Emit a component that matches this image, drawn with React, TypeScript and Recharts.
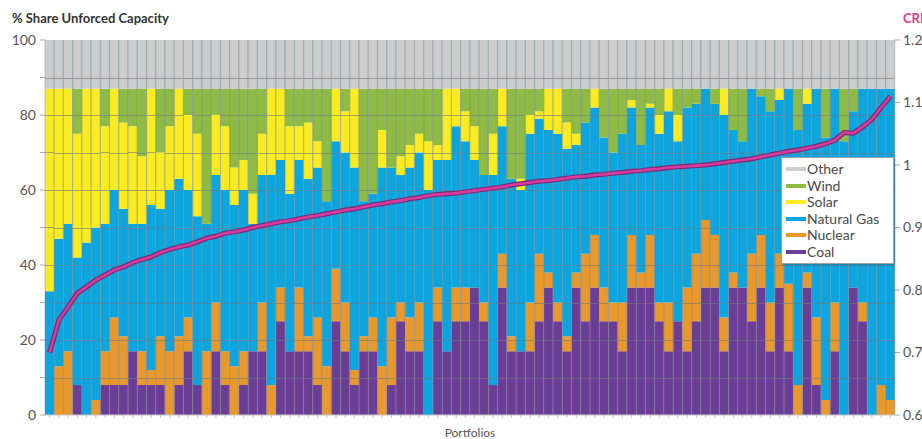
import React from 'react'
import {
  ComposedChart, Bar, Line, XAxis, YAxis, Legend, Label,
} from 'recharts'

// share of unforced capacity per portfolio (%)
const coal = [
  0, 0, 0, 8, 0, 0, 8, 8, 8, 17, 8, 8, 8, 0, 8, 17, 8, 0, 17, 8,
  0, 8, 17, 17, 0, 25, 17, 17, 17, 8, 0, 25, 17, 8, 17, 17, 0, 8, 25, 17,
  17, 0, 25, 17, 25, 25, 34, 25, 8, 34, 17, 17, 17, 25, 34, 25, 17, 34, 25, 34,
  25, 25, 17, 34, 34, 34, 25, 17, 25, 17, 25, 34, 34, 17, 34, 34, 25, 34, 17, 34,
  17, 0, 34, 8, 0, 17, 0, 34, 25, 0, 0, 0,
]
const nuclear = [
  0, 13, 17, 0, 0, 4, 9, 18, 13, 0, 9, 4, 13, 17, 13, 9, 0, 17, 13, 9,
  13, 9, 0, 13, 8, 9, 0, 17, 4, 18, 13, 14, 13, 4, 4, 9, 13, 18, 5, 9,
  13, 0, 9, 0, 9, 9, 0, 5, 0, 9, 4, 0, 13, 18, 4, 5, 4, 4, 18, 14,
  9, 5, 13, 14, 4, 14, 5, 13, 0, 17, 18, 18, 14, 9, 4, 0, 18, 14, 13, 9,
  18, 8, 4, 18, 4, 13, 0, 0, 5, 0, 8, 4,
]
const gas = [
  33, 34, 34, 34, 46, 46, 34, 34, 34, 34, 34, 44, 34, 43, 42, 34, 45, 34, 34, 43,
  43, 43, 34, 34, 56, 34, 42, 34, 42, 40, 44, 34, 40, 54, 36, 33, 53, 40, 34, 40,
  40, 60, 34, 51, 43, 39, 34, 34, 56, 34, 42, 43, 45, 36, 38, 45, 50, 34, 35, 34,
  40, 40, 45, 34, 34, 34, 45, 51, 48, 48, 40, 35, 35, 54, 38, 39, 44, 37, 51, 41,
  52, 68, 45, 61, 70, 57, 73, 47, 57, 87, 79, 83,
]
const solar = [
  54, 40, 36, 33, 41, 37, 26, 27, 23, 26, 18, 31, 15, 17, 24, 20, 22, 0, 16, 17,
  10, 8, 8, 11, 23, 19, 18, 9, 15, 7, 0, 14, 11, 21, 0, 0, 10, 0, 5, 6,
  5, 13, 4, 19, 10, 8, 9, 0, 11, 10, 0, 3, 5, 2, 11, 12, 7, 3, 0, 5,
  0, 0, 0, 2, 0, 1, 5, 6, 7, 0, 0, 0, 0, 7, 0, 0, 0, 0, 0, 3,
  0, 0, 4, 0, 0, 0, 0, 0, 0, 0, 0, 0,
]
const wind = [
  0, 0, 0, 12, 0, 0, 10, 0, 9, 10, 18, 0, 17, 10, 0, 7, 12, 36, 7, 10,
  21, 19, 28, 12, 0, 0, 10, 10, 9, 14, 30, 0, 6, 0, 30, 28, 11, 21, 18, 15,
  12, 14, 15, 0, 0, 6, 10, 23, 12, 0, 24, 24, 7, 6, 0, 0, 9, 12, 9, 0,
  13, 17, 12, 3, 15, 4, 7, 0, 7, 5, 4, 0, 4, 0, 11, 14, 0, 2, 6, 0,
  0, 11, 0, 0, 13, 0, 14, 6, 0, 0, 0, 0,
]
const other = [
  13, 13, 13, 13, 13, 13, 13, 13, 13, 13, 13, 13, 13, 13, 13, 13, 13, 13, 13, 13,
  13, 13, 13, 13, 13, 13, 13, 13, 13, 13, 13, 13, 13, 13, 13, 13, 13, 13, 13, 13,
  13, 13, 13, 13, 13, 13, 13, 13, 13, 13, 13, 13, 13, 13, 13, 13, 13, 13, 13, 13,
  13, 13, 13, 13, 13, 13, 13, 13, 13, 13, 13, 13, 13, 13, 13, 13, 13, 13, 13, 13,
  13, 13, 13, 13, 13, 13, 13, 13, 13, 13, 13, 13,
]
// CRI (right axis)
const cri = [
  0.700, 0.752, 0.773, 0.795, 0.805, 0.816, 0.824, 0.832, 0.837, 0.844,
  0.849, 0.853, 0.860, 0.865, 0.869, 0.872, 0.877, 0.883, 0.886, 0.891,
  0.893, 0.896, 0.900, 0.903, 0.906, 0.909, 0.911, 0.914, 0.917, 0.919,
  0.922, 0.925, 0.928, 0.930, 0.933, 0.936, 0.938, 0.941, 0.943, 0.946,
  0.948, 0.951, 0.953, 0.954, 0.955, 0.957, 0.959, 0.961, 0.963, 0.965,
  0.968, 0.970, 0.972, 0.974, 0.975, 0.977, 0.979, 0.981, 0.982, 0.984,
  0.985, 0.987, 0.988, 0.990, 0.991, 0.993, 0.994, 0.996, 0.997, 0.998,
  0.999, 1.000, 1.002, 1.004, 1.006, 1.008, 1.010, 1.013, 1.016, 1.019,
  1.022, 1.024, 1.027, 1.030, 1.034, 1.040, 1.052, 1.051, 1.061, 1.073,
  1.092, 1.110,
]

const leftTicks = [0, 10, 20, 30, 40, 50, 60, 70, 80, 90, 100]
const rightTicks = [0.6, 0.7, 0.8, 0.9, 1.0, 1.1, 1.2]

const series = [
  { key: 'coal', name: 'Coal', color: '#6b3d97' },
  { key: 'nuclear', name: 'Nuclear', color: '#e9982c' },
  { key: 'gas', name: 'Natural Gas', color: '#0ba6df' },
  { key: 'solar', name: 'Solar', color: '#fbec22' },
  { key: 'wind', name: 'Wind', color: '#8dbb44' },
  { key: 'other', name: 'Other', color: '#cdcdcd' },
]

const rows = coal.map((_, i) => ({
  name: i + 1,
  coal: coal[i],
  nuclear: nuclear[i],
  gas: gas[i],
  solar: solar[i],
  wind: wind[i],
  other: other[i],
  cri: cri[i],
}))

const FONT = 'Lato, "Open Sans", sans-serif'
const RULE = '#6f7a84'

// stacked range [lo, hi] of the segment being drawn, found from its fill colour
const segRange = (props: any): [number, number] | null => {
  const idx = series.findIndex(s => s.color === props.fill)
  const p = props.payload && typeof props.payload === 'object' && series[0].key in props.payload
    ? props.payload
    : rows[props.index]
  if (idx < 0 || !p) return null
  let lo = 0
  for (let k = 0; k < idx; k++) lo += Number(p[series[k].key]) || 0
  return [lo, lo + (Number(p[series[idx].key]) || 0)]
}

// rect plus thin rules: separators on both edges, and the horizontal
// gridlines (every 10%) that the figure draws over the bars
const EdgedBar = (props: any) => {
  const { x, y, width, height, fill } = props
  if (!height) return null
  const rules: number[] = []
  const r = segRange(props)
  if (r && r[1] > r[0]) {
    const k = height / (r[1] - r[0])
    const base = y + height + r[0] * k
    leftTicks.slice(1, -1).forEach(t => {
      if (t > r[0] && t < r[1]) rules.push(Math.round(base - t * k) + 0.5)
    })
  }
  return (
    <g>
      <rect x={x} y={y} width={width} height={height} fill={fill} />
      {rules.map(ry => (
        <line key={ry} x1={x} y1={ry} x2={x + width} y2={ry} stroke={RULE} strokeOpacity={0.6} strokeWidth={1} />
      ))}
      <line x1={x} y1={y} x2={x} y2={y + height} stroke={RULE} strokeOpacity={0.5} strokeWidth={0.8} />
      <line x1={x + width} y1={y} x2={x + width} y2={y + height} stroke={RULE} strokeOpacity={0.5} strokeWidth={0.8} />
    </g>
  )
}

const LegendBox = () => (
  <div style={{
    background: '#fff', border: '1px solid #9aa3ab', boxShadow: '1px 1px 2px rgba(0,0,0,0.25)',
    padding: '3px 4px', fontFamily: FONT, fontSize: 14, color: '#4a4a4a', lineHeight: '16.5px',
  }}>
    {[...series].reverse().map(s => (
      <div key={s.key} style={{ display: 'flex', alignItems: 'center' }}>
        <span style={{ display: 'inline-block', width: 20, height: 4, background: s.color, marginRight: 1 }} />
        {s.name}
      </div>
    ))}
  </div>
)

export default function App() {
  return (
    <div style={{ position: 'absolute', left: 0, top: 0, width: 922, height: 439, background: '#fff', fontFamily: FONT }}>
      <div style={{ position: 'absolute', left: 12, top: 10, fontSize: 13, fontWeight: 700, color: '#333' }}>
        % Share Unforced Capacity
      </div>
      <div style={{ position: 'absolute', left: 903, top: 10, fontSize: 13, fontWeight: 700, color: '#d4399c', whiteSpace: 'nowrap' }}>
        CRI
      </div>
      <ComposedChart
        width={922}
        height={439}
        data={rows}
        margin={{ top: 40, right: 0, bottom: 0, left: 0 }}
        barCategoryGap={0}
        barGap={0}
      >
        <XAxis
          dataKey="name"
          interval={0}
          tickFormatter={() => ''}
          tickSize={3}
          tickLine={{ stroke: '#c4c4c4' }}
          axisLine={{ stroke: '#c4c4c4' }}
          height={24}
        >
          <Label value="Portfolios" position="insideBottom" offset={2} style={{ fontSize: 12, fill: '#555', fontFamily: FONT }} />
        </XAxis>
        <YAxis
          yAxisId="left"
          domain={[0, 100]}
          ticks={leftTicks}
          tickFormatter={v => (v % 20 === 0 ? String(v) : '')}
          tick={{ fontSize: 14, fill: '#555', fontFamily: FONT }}
          tickSize={5}
          tickMargin={4}
          tickLine={{ stroke: '#aaa' }}
          axisLine={false}
          width={45}
        />
        <YAxis
          yAxisId="right"
          orientation="right"
          domain={[0.6, 1.2]}
          ticks={rightTicks}
          tickFormatter={v => String(Math.round(v * 10) / 10)}
          tick={{ fontSize: 14, fill: '#555', fontFamily: FONT, textAnchor: 'start' }}
          tickSize={5}
          tickMargin={3}
          tickLine={{ stroke: '#aaa' }}
          axisLine={false}
          width={27}
        />
        {series.map(s => (
          <Bar
            key={s.key}
            yAxisId="left"
            dataKey={s.key}
            name={s.name}
            stackId="mix"
            fill={s.color}
            shape={EdgedBar}
            isAnimationActive={false}
          />
        ))}
        <Line yAxisId="right" dataKey="cri" stroke="#7a2a70" strokeWidth={5} dot={false} activeDot={false} isAnimationActive={false} legendType="none" />
        <Line yAxisId="right" dataKey="cri" stroke="#d63b9f" strokeWidth={2.6} dot={false} activeDot={false} isAnimationActive={false} legendType="none" />
        <Legend
          layout="vertical"
          align="center"
          verticalAlign="middle"
          wrapperStyle={{ left: 781, top: 157, width: 113 }}
          content={() => <LegendBox />}
        />
      </ComposedChart>
    </div>
  )
}
